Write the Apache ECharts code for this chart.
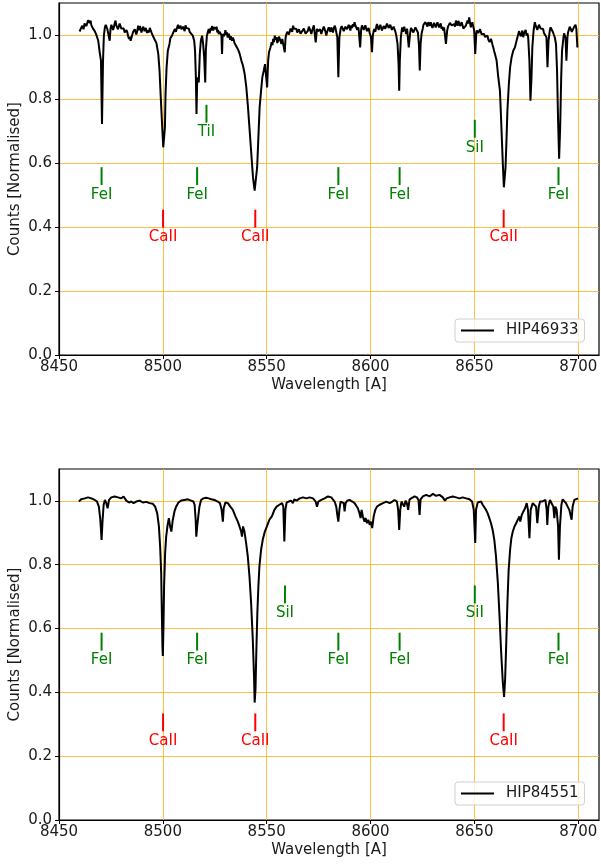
<!DOCTYPE html>
<html>
<head>
<meta charset="utf-8">
<script src="https://cdn.jsdelivr.net/npm/echarts@6/dist/echarts.min.js"></script>
<style>html,body{margin:0;padding:0;background:#fff}#c{width:601px;height:866px}</style>
</head>
<body>
<div id="c"></div>
<script>
// ---- Data ----
const topName = 'HIP46933';
const botName = 'HIP84551';

// HIP46933: [wavelength, normalised counts]
const spectrumTop = [
[8459.9,1.011],[8460.5,1.020],[8461.2,1.029],[8461.8,1.018],[8462.3,1.036],[8462.8,1.040],[8463.2,1.028],[8463.6,1.033],[8464.0,1.046],[8464.4,1.050],[8464.8,1.038],[8465.2,1.045],[8465.6,1.030],[8466.0,1.034],[8466.4,1.020],[8466.8,1.024],[8467.2,1.012],[8467.6,1.011],[8468.0,1.000],[8468.4,1.003],[8468.9,0.982],[8469.6,0.946],[8470.2,0.920],[8470.7,0.722],[8471.2,0.920],[8471.6,0.998],[8472.1,1.024],[8472.5,1.032],[8472.8,1.029],[8473.3,1.018],[8473.7,1.014],[8474.4,0.982],[8474.8,1.019],[8475.2,1.032],[8475.6,1.029],[8476.0,1.016],[8476.4,1.024],[8476.8,1.036],[8477.2,1.045],[8477.6,1.030],[8478.0,1.034],[8478.4,1.018],[8478.8,1.024],[8479.2,1.036],[8479.6,1.030],[8480.0,1.020],[8480.4,1.014],[8480.8,1.026],[8481.2,1.020],[8481.6,1.008],[8482.1,1.003],[8482.5,1.015],[8482.9,1.008],[8483.3,0.996],[8483.7,0.988],[8484.1,0.995],[8484.5,0.982],[8484.9,0.992],[8485.3,0.998],[8485.7,1.010],[8486.1,1.005],[8486.5,1.018],[8486.9,1.014],[8487.2,1.002],[8487.5,1.000],[8487.8,1.016],[8488.1,1.029],[8488.4,1.022],[8488.7,1.015],[8489.0,1.028],[8489.3,1.019],[8489.7,1.008],[8490.1,1.014],[8490.5,1.026],[8490.9,1.024],[8491.2,1.012],[8491.5,1.010],[8491.8,1.022],[8492.0,1.019],[8492.4,1.006],[8492.7,1.015],[8493.0,1.020],[8493.3,1.008],[8493.7,1.022],[8494.1,1.019],[8494.5,1.008],[8494.9,1.003],[8495.3,0.996],[8495.7,0.993],[8496.1,0.985],[8496.5,0.982],[8496.9,0.975],[8497.3,0.972],[8497.8,0.941],[8498.4,0.889],[8499.0,0.805],[8499.7,0.711],[8500.2,0.649],[8500.6,0.644],[8501.0,0.711],[8501.3,0.816],[8501.8,0.899],[8502.4,0.951],[8503.2,0.972],[8503.6,0.990],[8504.0,0.988],[8504.4,0.998],[8504.8,1.003],[8505.3,1.012],[8505.8,1.019],[8506.3,1.010],[8506.9,1.024],[8507.3,1.032],[8507.7,1.020],[8508.1,1.026],[8508.5,1.029],[8508.9,1.018],[8509.3,1.015],[8509.7,1.026],[8510.1,1.024],[8510.5,1.012],[8510.9,1.030],[8511.3,1.022],[8511.7,1.019],[8512.1,1.028],[8512.5,1.020],[8512.9,1.010],[8513.3,1.014],[8513.8,1.004],[8514.4,0.998],[8515.1,0.982],[8515.5,0.951],[8515.9,0.868],[8516.2,0.753],[8516.5,0.847],[8516.8,0.868],[8517.3,0.852],[8517.8,0.941],[8518.3,0.982],[8518.9,0.998],[8519.4,0.972],[8519.9,0.930],[8520.4,0.852],[8520.7,0.951],[8521.2,0.998],[8521.7,1.010],[8522.1,1.019],[8522.5,1.005],[8522.8,1.010],[8523.1,1.022],[8523.4,1.014],[8523.7,1.028],[8524.0,1.025],[8524.3,1.014],[8524.5,1.024],[8525.0,1.030],[8525.6,1.019],[8525.9,1.026],[8526.2,1.008],[8526.6,1.016],[8526.9,1.003],[8527.3,1.010],[8527.7,1.014],[8528.2,1.000],[8528.5,0.941],[8528.8,1.003],[8529.3,0.996],[8529.8,1.003],[8530.1,1.015],[8530.4,1.012],[8530.7,1.000],[8530.9,1.008],[8531.2,0.992],[8531.5,0.998],[8531.8,1.004],[8532.1,0.993],[8532.4,0.985],[8532.7,0.996],[8533.0,0.990],[8533.3,0.982],[8533.7,0.992],[8534.1,0.985],[8534.5,0.975],[8534.9,0.977],[8535.4,0.970],[8536.2,0.955],[8537.0,0.941],[8537.8,0.920],[8538.6,0.904],[8539.4,0.878],[8540.2,0.836],[8541.0,0.774],[8541.8,0.701],[8542.6,0.628],[8543.4,0.555],[8544.2,0.514],[8544.7,0.519],[8545.4,0.586],[8546.0,0.680],[8546.6,0.774],[8547.3,0.826],[8547.9,0.868],[8548.6,0.889],[8549.2,0.909],[8549.7,0.904],[8550.2,0.836],[8550.7,0.920],[8551.1,0.946],[8551.8,0.961],[8552.4,0.977],[8552.8,0.968],[8553.1,0.988],[8553.5,0.978],[8553.9,0.998],[8554.3,0.985],[8554.7,0.993],[8555.1,0.975],[8555.5,0.982],[8555.9,0.995],[8556.3,0.988],[8556.7,0.980],[8557.1,0.972],[8557.5,0.988],[8557.9,0.993],[8558.3,0.985],[8558.7,0.946],[8559.1,0.992],[8559.5,1.003],[8559.9,1.010],[8560.3,1.014],[8560.7,1.002],[8561.1,1.008],[8561.5,1.020],[8561.9,1.019],[8562.3,1.010],[8562.7,1.029],[8563.1,1.020],[8563.5,1.014],[8563.9,1.026],[8564.3,1.019],[8564.7,1.008],[8565.1,1.003],[8565.5,1.018],[8565.9,1.014],[8566.3,1.004],[8566.7,0.998],[8567.1,1.012],[8567.5,1.008],[8567.9,1.020],[8568.3,1.014],[8568.7,1.004],[8569.1,0.998],[8569.5,1.008],[8569.9,1.014],[8570.3,1.026],[8570.7,1.024],[8571.1,1.012],[8571.5,1.003],[8571.9,1.014],[8572.3,1.019],[8572.7,1.030],[8573.1,1.029],[8573.6,0.977],[8574.2,1.019],[8574.7,1.012],[8575.2,1.008],[8575.7,1.018],[8576.3,1.003],[8576.7,1.012],[8577.1,1.014],[8577.5,1.026],[8577.9,1.024],[8578.3,1.010],[8578.7,0.998],[8579.1,1.010],[8579.5,1.014],[8579.9,1.024],[8580.3,1.019],[8580.7,1.010],[8581.1,1.024],[8581.5,1.016],[8581.9,1.008],[8582.3,1.020],[8582.7,1.029],[8583.1,1.022],[8583.5,1.019],[8584.0,0.993],[8584.5,0.868],[8585.0,0.993],[8585.6,1.019],[8586.1,1.028],[8586.7,1.024],[8587.1,1.012],[8587.5,1.015],[8587.9,1.026],[8588.3,1.029],[8588.7,1.018],[8589.1,1.020],[8589.5,1.032],[8589.9,1.024],[8590.3,1.014],[8590.7,1.030],[8591.1,1.022],[8591.5,1.034],[8591.9,1.026],[8592.3,1.040],[8592.7,1.030],[8593.1,1.029],[8593.6,1.016],[8594.1,1.024],[8594.4,1.010],[8594.7,1.014],[8595.0,0.961],[8595.5,1.019],[8595.9,1.030],[8596.3,1.029],[8596.7,1.016],[8597.1,1.019],[8597.5,1.030],[8597.9,1.024],[8598.3,1.012],[8598.7,1.014],[8599.1,1.022],[8599.5,1.008],[8599.9,1.000],[8600.2,0.993],[8600.7,0.946],[8601.1,0.998],[8601.5,1.012],[8601.9,1.019],[8602.3,1.010],[8602.7,1.024],[8603.1,1.034],[8603.5,1.029],[8603.9,1.016],[8604.3,1.019],[8604.7,1.032],[8605.1,1.029],[8605.5,1.014],[8605.9,1.019],[8606.3,1.028],[8606.7,1.034],[8607.1,1.020],[8607.5,1.024],[8607.9,1.036],[8608.3,1.034],[8608.7,1.022],[8609.1,1.019],[8609.5,1.032],[8609.9,1.029],[8610.3,1.016],[8610.7,1.014],[8611.1,1.026],[8611.5,1.024],[8611.9,1.012],[8612.4,0.998],[8613.0,0.972],[8613.5,0.909],[8613.8,0.826],[8614.1,0.920],[8614.6,0.993],[8615.2,1.024],[8615.6,1.010],[8615.9,1.014],[8616.2,1.026],[8616.5,1.019],[8616.9,1.010],[8617.2,1.003],[8617.6,1.020],[8618.0,1.014],[8618.4,0.961],[8619.1,1.008],[8619.5,1.022],[8620.0,1.019],[8620.6,1.008],[8621.2,1.014],[8621.6,1.024],[8622.0,1.019],[8622.4,1.024],[8622.8,1.008],[8623.3,0.970],[8623.7,0.889],[8624.1,0.972],[8624.6,1.005],[8625.1,1.019],[8625.5,1.032],[8625.9,1.029],[8626.4,1.040],[8627.0,1.034],[8627.4,1.026],[8627.8,1.040],[8628.2,1.036],[8628.6,1.029],[8629.0,1.040],[8629.4,1.034],[8629.8,1.022],[8630.2,1.024],[8630.6,1.038],[8631.0,1.034],[8631.4,1.024],[8631.8,1.029],[8632.2,1.040],[8632.6,1.034],[8633.0,1.024],[8633.4,1.029],[8633.8,1.036],[8634.2,1.019],[8634.6,1.026],[8635.0,1.014],[8635.4,1.024],[8635.8,1.019],[8636.3,0.972],[8636.9,1.014],[8637.3,1.026],[8637.7,1.029],[8638.2,1.038],[8638.7,1.040],[8639.1,1.030],[8639.5,1.024],[8639.9,1.036],[8640.3,1.034],[8640.7,1.026],[8641.1,1.045],[8641.5,1.036],[8641.9,1.029],[8642.3,1.044],[8642.7,1.040],[8643.1,1.028],[8643.5,1.029],[8643.9,1.040],[8644.3,1.034],[8644.7,1.020],[8645.1,1.014],[8645.5,1.024],[8645.9,1.029],[8646.3,1.038],[8646.7,1.045],[8647.1,1.036],[8647.5,1.055],[8648.0,1.034],[8648.3,1.024],[8648.6,1.029],[8649.0,1.040],[8649.4,1.034],[8649.9,1.014],[8650.4,0.941],[8650.9,1.003],[8651.2,1.014],[8651.5,1.019],[8651.9,1.006],[8652.3,1.008],[8652.7,1.018],[8653.1,1.014],[8653.5,1.002],[8653.9,0.998],[8654.3,1.008],[8654.7,1.003],[8655.1,0.994],[8655.5,0.988],[8655.9,1.000],[8656.3,0.998],[8656.7,0.986],[8657.0,0.988],[8657.3,0.978],[8657.6,0.977],[8658.0,0.988],[8658.3,0.982],[8658.7,0.970],[8659.1,0.961],[8659.5,0.950],[8659.9,0.941],[8660.7,0.920],[8661.5,0.868],[8662.3,0.826],[8662.7,0.764],[8663.2,0.680],[8663.7,0.597],[8664.2,0.524],[8664.5,0.519],[8665.0,0.586],[8665.5,0.680],[8665.9,0.764],[8666.6,0.847],[8667.2,0.899],[8667.9,0.930],[8668.7,0.951],[8669.5,0.961],[8670.3,0.982],[8670.7,0.992],[8671.1,0.998],[8671.5,1.012],[8671.9,1.008],[8672.3,0.996],[8672.7,1.003],[8673.1,1.014],[8673.5,0.993],[8673.9,1.004],[8674.3,1.008],[8674.7,1.016],[8675.1,0.998],[8675.5,1.006],[8675.9,0.993],[8676.5,0.920],[8677.0,0.795],[8677.5,0.868],[8677.9,0.961],[8678.5,1.014],[8679.1,1.040],[8679.5,1.030],[8679.9,1.029],[8680.3,1.016],[8680.7,1.019],[8681.1,1.032],[8681.5,1.029],[8681.9,1.020],[8682.3,1.014],[8682.7,1.026],[8683.1,1.019],[8683.5,1.006],[8683.9,1.008],[8684.3,1.000],[8684.7,0.993],[8685.2,0.899],[8685.7,0.982],[8686.3,1.014],[8686.7,1.024],[8687.1,1.029],[8687.5,1.018],[8687.9,1.008],[8688.3,1.000],[8688.7,0.993],[8689.3,0.972],[8689.8,0.889],[8690.3,0.732],[8690.8,0.613],[8691.3,0.711],[8691.8,0.868],[8692.2,0.951],[8692.9,0.993],[8693.2,1.005],[8693.5,1.003],[8693.9,0.990],[8694.3,0.920],[8694.8,0.993],[8695.1,1.008],[8695.4,1.014],[8695.9,1.026],[8696.4,1.019],[8696.9,1.010],[8697.5,1.008],[8697.9,1.024],[8698.3,1.024],[8698.7,1.032],[8699.1,1.019],[8699.4,1.020],[8699.6,0.961]
];

const waveBot = [8459.6,8460.7,8462.4,8464.0,8465.6,8467.2,8468.3,8469.2,8469.9,8470.5,8471.0,8471.5,8472.1,8472.8,8473.4,8474.1,8475.2,8476.8,8478.4,8480.0,8481.1,8482.4,8483.7,8484.8,8485.9,8487.2,8488.8,8490.4,8492.0,8493.6,8495.2,8496.3,8497.3,8498.1,8498.7,8499.2,8499.5,8499.8,8500.0,8500.3,8500.6,8501.1,8501.6,8502.3,8502.9,8503.5,8504.1,8504.8,8505.6,8506.4,8507.5,8508.8,8510.4,8512.0,8513.6,8514.7,8515.3,8515.8,8516.1,8516.6,8517.1,8517.6,8518.4,8519.5,8520.8,8522.1,8523.4,8524.8,8526.4,8527.5,8528.3,8528.9,8529.3,8530.1,8531.3,8532.5,8533.7,8535.0,8536.1,8536.9,8537.7,8538.1,8538.6,8539.3,8540.1,8540.9,8541.7,8542.5,8543.3,8543.9,8544.2,8544.6,8545.0,8545.5,8546.0,8546.5,8547.3,8548.1,8549.1,8550.1,8551.3,8552.6,8553.7,8554.8,8556.1,8557.4,8558.0,8558.5,8559.0,8559.6,8560.6,8561.7,8562.6,8563.3,8564.4,8565.9,8567.5,8569.1,8570.7,8572.3,8573.6,8574.2,8574.9,8576.3,8577.9,8579.5,8581.1,8582.7,8583.5,8584.0,8584.5,8585.0,8585.6,8586.4,8587.1,8587.5,8588.0,8588.8,8589.9,8591.2,8592.3,8593.1,8593.9,8594.7,8595.2,8595.7,8596.3,8597.1,8597.6,8598.3,8598.9,8599.6,8600.2,8600.8,8601.5,8602.3,8603.1,8604.4,8606.0,8607.6,8609.2,8610.5,8611.6,8612.7,8613.3,8613.8,8614.3,8614.9,8615.6,8616.2,8616.9,8617.5,8618.1,8618.8,8619.6,8621.2,8622.3,8623.1,8623.6,8624.1,8625.2,8626.8,8628.4,8630.0,8631.6,8633.2,8634.8,8635.8,8636.7,8638.0,8639.6,8641.2,8642.8,8644.4,8646.0,8647.6,8648.9,8649.7,8650.4,8650.8,8651.6,8652.4,8653.2,8654.0,8654.8,8655.6,8656.4,8657.2,8658.0,8658.8,8659.6,8660.4,8661.3,8662.1,8662.9,8663.7,8664.3,8664.8,8665.3,8665.9,8666.5,8667.2,8667.8,8668.5,8669.3,8670.1,8670.9,8671.7,8672.1,8672.8,8673.6,8674.4,8675.2,8675.8,8676.5,8677.1,8678.1,8678.9,8679.7,8680.3,8681.0,8681.6,8682.6,8683.4,8684.2,8684.8,8685.1,8685.6,8686.4,8687.2,8688.0,8688.5,8689.0,8689.6,8690.3,8690.7,8691.2,8691.9,8692.5,8693.3,8694.1,8694.9,8695.7,8696.3,8696.8,8697.3,8698.1,8698.9,8699.9];
const fluxBot = [0.998,1.005,1.008,1.011,1.008,1.003,0.998,0.982,0.941,0.878,0.941,0.988,1.003,0.993,0.977,1.003,1.011,1.014,1.011,1.008,1.014,1.001,0.995,0.998,0.993,0.998,1.001,0.995,0.997,0.993,0.991,0.982,0.961,0.920,0.857,0.774,0.659,0.545,0.514,0.607,0.732,0.836,0.888,0.925,0.946,0.920,0.904,0.941,0.967,0.982,0.995,1.001,1.003,1.005,1.001,0.998,0.988,0.941,0.888,0.925,0.920,0.982,1.003,1.008,1.010,1.008,1.005,1.003,0.998,0.993,0.972,0.935,0.977,0.995,0.993,0.982,0.972,0.951,0.935,0.920,0.904,0.888,0.920,0.904,0.868,0.826,0.764,0.680,0.566,0.451,0.368,0.409,0.524,0.649,0.732,0.795,0.847,0.878,0.904,0.920,0.941,0.953,0.972,0.982,0.988,0.993,0.982,0.873,0.972,0.995,0.998,1.001,0.993,1.005,1.001,1.008,1.011,1.008,1.011,1.008,0.998,0.982,0.998,1.003,1.008,1.014,1.011,0.998,0.982,0.956,0.935,0.972,0.998,1.003,0.993,0.967,0.993,1.001,1.003,0.998,0.993,0.988,0.977,0.961,0.946,0.972,0.951,0.935,0.946,0.930,0.941,0.925,0.935,0.915,0.951,0.972,0.982,0.988,0.993,0.998,0.993,0.998,1.003,0.998,0.972,0.909,0.972,0.998,0.998,0.982,1.001,0.993,0.972,1.005,1.008,1.014,1.011,1.003,0.956,1.005,1.014,1.019,1.014,1.022,1.016,1.019,1.011,1.001,1.008,1.011,1.014,1.011,1.008,1.011,1.008,1.005,0.998,0.972,0.868,0.972,0.995,0.993,0.998,0.988,0.982,0.972,0.961,0.946,0.930,0.909,0.878,0.826,0.743,0.639,0.524,0.430,0.386,0.441,0.545,0.680,0.784,0.847,0.883,0.904,0.920,0.930,0.941,0.951,0.935,0.956,0.967,0.977,0.993,0.972,0.883,0.972,0.993,0.998,0.982,0.930,0.982,0.998,0.998,0.993,1.003,0.972,0.925,0.982,1.003,0.998,0.982,0.946,0.982,0.972,0.920,0.816,0.920,0.988,1.005,1.003,0.993,0.982,0.972,0.956,0.941,0.982,1.003,1.008,1.008];

// Line identifications: label, wavelength, label level
const topLineNames  = ['FeI','FeI','FeI','FeI','FeI','TiI','SiI','CaII','CaII','CaII'];
const topLineWaves  = [8470.5,8516.5,8584.5,8614,8690.5,8521,8650.2,8500.1,8544.5,8664.1];
const topLineLevels = [0.50,0.50,0.50,0.50,0.50,0.695,0.648,0.367,0.367,0.367];

const botLineNames  = ['FeI','FeI','FeI','FeI','FeI','SiI','SiI','CaII','CaII','CaII'];
const botLineWaves  = [8470.5,8516.5,8584.5,8614,8690.5,8558.8,8650.2,8500.1,8544.5,8664.1];
const botLineLevels = [0.50,0.50,0.50,0.50,0.50,0.648,0.648,0.247,0.247,0.247];

const xTicks = [8450,8500,8550,8600,8650,8700];
const yTicks = [0.0,0.2,0.4,0.6,0.8,1.0];

// ---- Chart ----
const FONT = 'DejaVu Sans';
const GRIDC = '#ffb733';
const zip = (a,b) => a.map((v,i)=>[v,b[i]]);

function xAxisCfg(idx){
  return {
    type:'value', gridIndex:idx, min:8450, max:8710,
    axisLine:{show:true,lineStyle:{color:'#000',width:1.2}},
    axisTick:{show:true,length:4,customValues:xTicks,lineStyle:{color:'#000'}},
    axisLabel:{color:'#1a1a1a',fontFamily:FONT,fontSize:15,margin:5,customValues:xTicks,
      formatter:v=>String(v)},
    splitLine:{show:true,lineStyle:{color:GRIDC,width:0.9}},
    name:'Wavelength [A]', nameLocation:'middle', nameGap:23, nameMoveOverlap:false,
    nameTextStyle:{color:'#1a1a1a',fontFamily:FONT,fontSize:15}
  };
}
function yAxisCfg(idx){
  return {
    type:'value', gridIndex:idx, min:0, max:1.1,
    axisLine:{show:true,lineStyle:{color:'#000',width:1.2}},
    axisTick:{show:true,length:4,customValues:yTicks,lineStyle:{color:'#000'}},
    axisLabel:{color:'#1a1a1a',fontFamily:FONT,fontSize:15,margin:7,customValues:yTicks,
      formatter:v=>Number(v).toFixed(1)},
    splitLine:{show:true,lineStyle:{color:GRIDC,width:0.9}},
    name:'Counts [Normalised]', nameLocation:'middle', nameGap:36, nameMoveOverlap:false,
    nameTextStyle:{color:'#1a1a1a',fontFamily:FONT,fontSize:15}
  };
}
function annSeries(idx, names, waves, levels){
  return {
    type:'custom', xAxisIndex:idx, yAxisIndex:idx, z:5,
    data: waves.map((w,i)=>[w, levels[i]]),
    renderItem:(params, api)=>{
      const x = api.value(0), y = api.value(1);
      const name = names[params.dataIndex];
      const col = name==='CaII' ? '#ff0000' : '#008000';
      const p0 = api.coord([x, y+0.031]);
      const p1 = api.coord([x, y+0.087]);
      const pt = api.coord([x, y]);
      return {type:'group', children:[
        {type:'line', shape:{x1:p0[0],y1:p0[1],x2:p1[0],y2:p1[1]}, style:{stroke:col,lineWidth:2}},
        {type:'text', x:pt[0], y:pt[1], style:{text:name, fill:col, font:'15px "DejaVu Sans"', align:'center', verticalAlign:'middle'}}
      ]};
    }
  };
}
function legendCfg(name, top){
  return {
    data:[name], left:455, top:top, orient:'vertical',
    icon:'rect', itemWidth:33, itemHeight:2,
    padding:[4,6,4,6], borderColor:'#d0d0d0', borderWidth:1, borderRadius:3,
    backgroundColor:'rgba(255,255,255,0.8)',
    textStyle:{color:'#1a1a1a',fontFamily:FONT,fontSize:15,padding:[0,0,0,7]}
  };
}

const chart = echarts.init(document.getElementById('c'), null, {renderer:'canvas'});
chart.setOption({
  animation:false,
  backgroundColor:'#fff',
  grid:[
    {left:59, top:3, width:540, height:352, containLabel:false, outerBoundsMode:'none', show:true, borderColor:'#000', borderWidth:1.2, backgroundColor:'transparent'},
    {left:59, top:469, width:540, height:351, containLabel:false, outerBoundsMode:'none', show:true, borderColor:'#000', borderWidth:1.2, backgroundColor:'transparent'}
  ],
  xAxis:[xAxisCfg(0), xAxisCfg(1)],
  yAxis:[yAxisCfg(0), yAxisCfg(1)],
  legend:[legendCfg(topName, 319), legendCfg(botName, 782)],
  series:[
    {name:topName, type:'line', xAxisIndex:0, yAxisIndex:0, data:spectrumTop,
     showSymbol:false, symbol:'none', lineStyle:{color:'#000',width:2}, itemStyle:{color:'#000'}, z:3},
    {name:botName, type:'line', xAxisIndex:1, yAxisIndex:1, data:zip(waveBot,fluxBot),
     showSymbol:false, symbol:'none', lineStyle:{color:'#000',width:2}, itemStyle:{color:'#000'}, z:3},
    annSeries(0, topLineNames, topLineWaves, topLineLevels),
    annSeries(1, botLineNames, botLineWaves, botLineLevels)
  ]
});
</script>
</body>
</html>
